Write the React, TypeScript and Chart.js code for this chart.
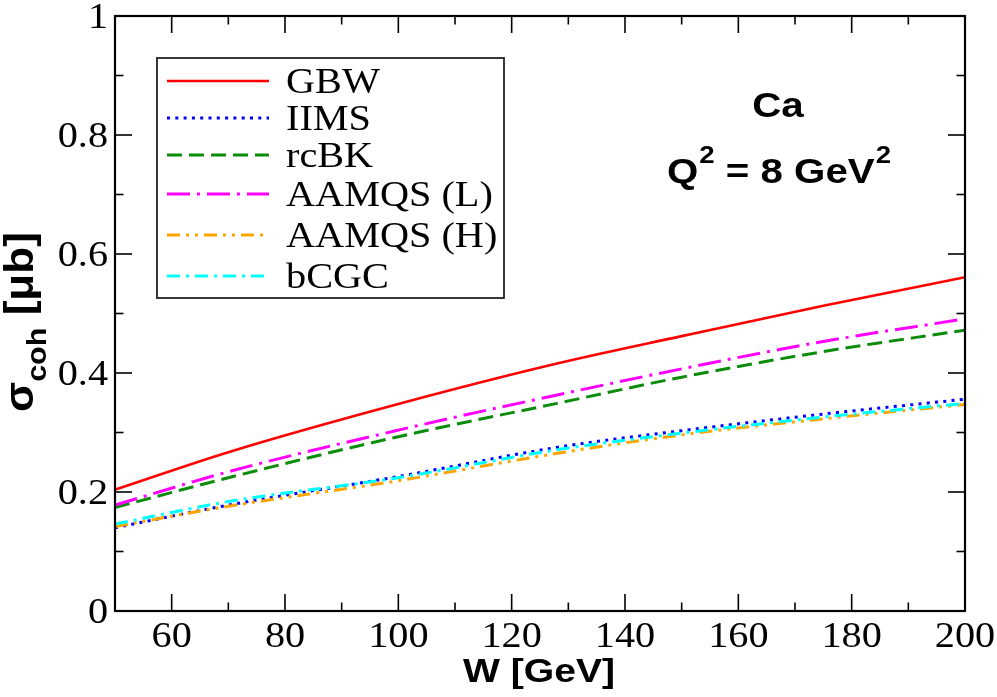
import React, { useEffect, useRef } from "react";
import { Chart, registerables } from "chart.js";

Chart.register(...registerables);

// ---- data ----
const W_VALUES = [50, 70, 100, 128, 150, 175, 200];
const GBW = [0.204, 0.267, 0.348, 0.416, 0.462, 0.513, 0.561];
const IIMS = [0.140, 0.178, 0.226, 0.275, 0.303, 0.331, 0.356];
const RCBK = [0.174, 0.224, 0.293, 0.349, 0.393, 0.436, 0.472];
const AAMQS_L = [0.178, 0.234, 0.304, 0.363, 0.407, 0.453, 0.491];
const AAMQS_H = [0.142, 0.176, 0.219, 0.265, 0.296, 0.323, 0.347];
const BCGC = [0.146, 0.184, 0.224, 0.271, 0.299, 0.326, 0.349];

const SERIES_NAMES = ["GBW", "IIMS", "rcBK", "AAMQS (L)", "AAMQS (H)", "bCGC"];
const SERIES_VALUES = [GBW, IIMS, RCBK, AAMQS_L, AAMQS_H, BCGC];

const X_TICKS = [60, 80, 100, 120, 140, 160, 180, 200];
const X_MINOR = [50, 70, 90, 110, 130, 150, 170, 190];
const Y_TICKS = [0, 0.2, 0.4, 0.6, 0.8, 1];
const Y_MINOR = [0.1, 0.3, 0.5, 0.7, 0.9];

// ---- styles ----
const COLORS = ["#ff0000", "#0000ff", "#0b8c0b", "#ff00ff", "#ffa500", "#00ffff"];
const DASHES: number[][] = [[], [3, 5.3], [15, 7], [23, 7, 3, 7], [13, 6, 3, 6, 3, 6], [13, 6, 3, 6]];
const WIDTHS = [2.6, 3, 3, 3, 3, 3];

const SERIF = "'Liberation Serif', 'DejaVu Serif', serif";
const SANS = "'Liberation Sans', Arial, sans-serif";
const SX = 1.15; // horizontal stretch of the reference's lettering

function stretchedWidth(ctx: CanvasRenderingContext2D, t: string, font: string) {
  ctx.font = font;
  return ctx.measureText(t).width * SX;
}

function drawText(
  ctx: CanvasRenderingContext2D,
  t: string,
  x: number,
  y: number,
  font: string,
  align: "left" | "center" | "right" = "left"
) {
  const w = stretchedWidth(ctx, t, font);
  let x0 = x;
  if (align === "center") x0 = x - w / 2;
  if (align === "right") x0 = x - w;
  ctx.save();
  ctx.font = font;
  ctx.textAlign = "left";
  ctx.textBaseline = "alphabetic";
  ctx.translate(x0, y);
  ctx.scale(SX, 1);
  ctx.fillText(t, 0, 0);
  ctx.restore();
  return w;
}

const overlay = {
  id: "overlay",
  afterDraw(chart: any) {
    const { ctx, chartArea: a, scales } = chart;
    const x = scales.x;
    const y = scales.y;
    ctx.save();
    ctx.fillStyle = "#000";
    // ticks (inward, mirrored)
    ctx.strokeStyle = "#000";
    ctx.lineWidth = 1.6;
    const seg = (x1: number, y1: number, x2: number, y2: number) => {
      ctx.beginPath();
      ctx.moveTo(x1, y1);
      ctx.lineTo(x2, y2);
      ctx.stroke();
    };
    const MAJ = 17;
    const MIN = 8.5;
    const tickFont = `35px ${SERIF}`;
    X_TICKS.forEach((v) => {
      const p = x.getPixelForValue(v);
      seg(p, a.bottom, p, a.bottom - MAJ);
      seg(p, a.top, p, a.top + MAJ);
      drawText(ctx, String(v), p, a.bottom + 36, tickFont, "center");
    });
    X_MINOR.forEach((v) => {
      const p = x.getPixelForValue(v);
      seg(p, a.bottom, p, a.bottom - MIN);
      seg(p, a.top, p, a.top + MIN);
    });
    Y_TICKS.forEach((v) => {
      const p = y.getPixelForValue(v);
      seg(a.left, p, a.left + MAJ, p);
      seg(a.right, p, a.right - MAJ, p);
      drawText(ctx, String(v), a.left - 7, p + 12, tickFont, "right");
    });
    Y_MINOR.forEach((v) => {
      const p = y.getPixelForValue(v);
      seg(a.left, p, a.left + MIN, p);
      seg(a.right, p, a.right - MIN, p);
    });
    // frame
    ctx.lineWidth = 2.2;
    ctx.strokeRect(a.left, a.top, a.right - a.left, a.bottom - a.top);

    // legend
    const lx = 157, ly = 58, lw = 347, lh = 240;
    ctx.fillStyle = "#fff";
    ctx.fillRect(lx, ly, lw, lh);
    ctx.strokeStyle = "#222";
    ctx.lineWidth = 1.8;
    ctx.strokeRect(lx, ly, lw, lh);
    const rows = [81, 118, 155, 194, 235, 276];
    chart.data.datasets.forEach((ds: any, i: number) => {
      const ry = rows[i];
      ctx.save();
      ctx.strokeStyle = ds.borderColor;
      ctx.lineWidth = ds.borderWidth;
      ctx.setLineDash(ds.borderDash || []);
      ctx.beginPath();
      ctx.moveTo(167, ry);
      ctx.lineTo(269, ry);
      ctx.stroke();
      ctx.restore();
      ctx.fillStyle = "#000";
      drawText(ctx, ds.label, 286, ry + 12, `35px ${SERIF}`, "left");
    });

    // annotations
    ctx.fillStyle = "#000";
    const big = `bold 35px ${SANS}`;
    const sup = `bold 24px ${SANS}`;
    drawText(ctx, "Ca", 778, 117, big, "center");

    const parts: [string, string, number, number][] = [
      ["Q", big, 0, 0],
      ["2", sup, -20, 1],
      [" = 8 GeV", big, 0, 0],
      ["2", sup, -20, 1],
    ];
    let total = 0;
    parts.forEach(([t, f, , gap]) => {
      total += stretchedWidth(ctx, t, f) + gap;
    });
    let cx = 779 - total / 2;
    parts.forEach(([t, f, dy, gap]) => {
      cx += gap;
      cx += drawText(ctx, t, cx, 183 + dy, f, "left");
    });

    // x title
    drawText(ctx, "W [GeV]", 539, 682, `bold 34px ${SANS}`, "center");

    // y title (rotated)
    ctx.save();
    ctx.translate(33, 0);
    ctx.rotate(-Math.PI / 2);
    ctx.scale(1.13, 1.05);
    ctx.textAlign = "left";
    ctx.textBaseline = "alphabetic";
    let px = -412 / 1.13;
    ctx.font = `bold 39px ${SANS}`;
    ctx.fillText("σ", px, 0);
    px += ctx.measureText("σ").width;
    ctx.font = `bold 27px ${SANS}`;
    ctx.fillText("coh", px, 12);
    px += ctx.measureText("coh").width;
    ctx.font = `bold 39px ${SANS}`;
    ctx.fillText(" [μb]", px, 0);
    ctx.restore();

    ctx.restore();
  },
};

export default function App() {
  const ref = useRef<HTMLCanvasElement | null>(null);
  useEffect(() => {
    if (!ref.current) return;
    const datasets = SERIES_NAMES.map((name, i) => ({
      label: name,
      data: W_VALUES.map((w, j) => ({ x: w, y: SERIES_VALUES[i][j] })),
      borderColor: COLORS[i],
      backgroundColor: COLORS[i],
      borderWidth: WIDTHS[i],
      borderDash: DASHES[i],
      pointRadius: 0,
      fill: false,
      cubicInterpolationMode: "monotone" as const,
      order: SERIES_NAMES.length - i,
    }));
    const chart = new Chart(ref.current, {
      type: "line",
      data: { datasets },
      options: {
        responsive: false,
        animation: false,
        layout: { padding: { top: 16, right: 32, left: 0, bottom: 0 } },
        plugins: { legend: { display: false }, tooltip: { enabled: false } },
        scales: {
          x: {
            type: "linear",
            min: 50,
            max: 200,
            grid: { display: false },
            border: { display: false },
            afterBuildTicks: (s: any) => {
              s.ticks = X_TICKS.map((v) => ({ value: v }));
            },
            afterFit: (s: any) => {
              s.height = 86;
              s.paddingLeft = 0;
              s.paddingRight = 0;
            },
            ticks: { display: false },
          },
          y: {
            type: "linear",
            min: 0,
            max: 1,
            grid: { display: false },
            border: { display: false },
            afterBuildTicks: (s: any) => {
              s.ticks = Y_TICKS.map((v) => ({ value: v }));
            },
            afterFit: (s: any) => {
              s.width = 115;
              s.paddingTop = 0;
              s.paddingBottom = 0;
            },
            ticks: { display: false },
          },
        },
      },
      plugins: [overlay],
    });
    return () => chart.destroy();
  }, []);
  return (
    <div style={{ position: "fixed", left: 0, top: 0, width: 997, height: 697, background: "#fff" }}>
      <canvas ref={ref} width={997} height={697} style={{ display: "block" }} />
    </div>
  );
}
